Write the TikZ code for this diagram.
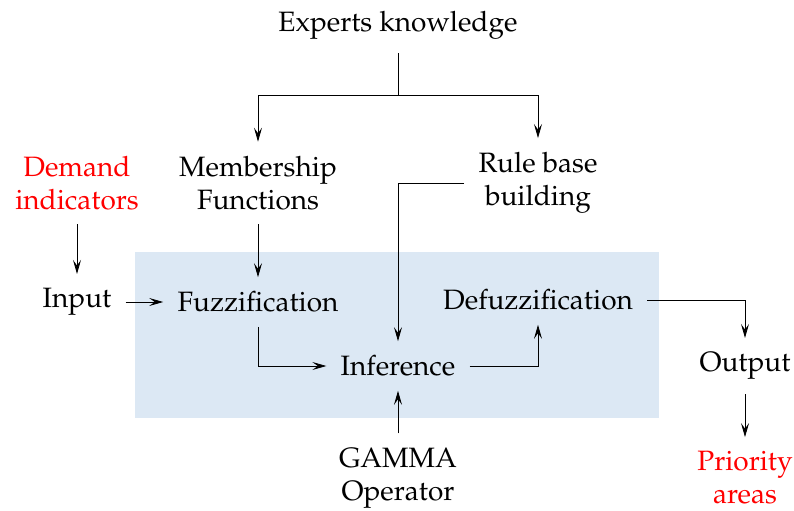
\documentclass[tikz,border=0pt]{standalone}
\usepackage[T1]{fontenc}
\usepackage{mathpazo}
\usepackage{tikz}
\usetikzlibrary{arrows.meta,positioning}

\definecolor{boxblue}{RGB}{220,232,244}

\begin{document}
\begin{tikzpicture}[>={Stealth[length=7pt,width=4pt,inset=2.8pt]},auto,on grid,thin,
        shorten >=4pt,shorten <=4pt,
        main node/.style={align=center,inner sep=3pt,font=\fontsize{14}{16.5}\selectfont},
        red node/.style={main node,text=red}]
        \useasboundingbox (0,0) rectangle (397pt,-255pt);
        \fill[boxblue] (67.5pt,-126pt) rectangle (329.5pt,-209pt);
        \node[main node] (ek) at (199pt,-12.5pt) {Experts knowledge};
        \node[main node] (mf) [below left=79pt and 70pt of ek] {Membership\\Functions};
        \node[main node] (rb) [right=140pt of mf] {Rule base\\building};
        \node[red node] (di) [left=90.5pt of mf] {Demand\\indicators};
        \node[main node] (fuzz) [below=59.5pt of mf] {Fuzzification};
        \node[main node] (inp) [left=90.5pt of fuzz] {Input};
        \node[main node] (defuzz) [below=58.5pt of rb] {Defuzzification};
        \node[main node] (inf) [below=170.5pt of ek] {Inference};
        \node[main node] (gam) [below=56pt of inf] {GAMMA\\Operator};
        \node[main node] (out) [below right=33pt and 103.5pt of defuzz] {Output};
        \node[red node] (pa) [below=56pt of out] {Priority\\areas};
        \coordinate (split) at ([yshift=-47.5pt]ek.center |- 0,0);
        \draw[shorten >=0pt] (ek) -- (split);
        \draw[->,shorten <=0pt] (split) -| (mf);
        \draw[->,shorten <=0pt] (split) -| (rb);
        \path[draw,->]
        (di) edge (inp)
        (mf) edge (fuzz)
        (inp) edge (fuzz)
        (gam) edge (inf)
        (out) edge (pa)
        ;
        \draw[->] (rb.west) -| (inf);
        \draw[->] (fuzz) |- (inf);
        \draw[->] (inf) -| (defuzz);
        \draw[->] (defuzz) -| (out);
\end{tikzpicture}
\end{document}
